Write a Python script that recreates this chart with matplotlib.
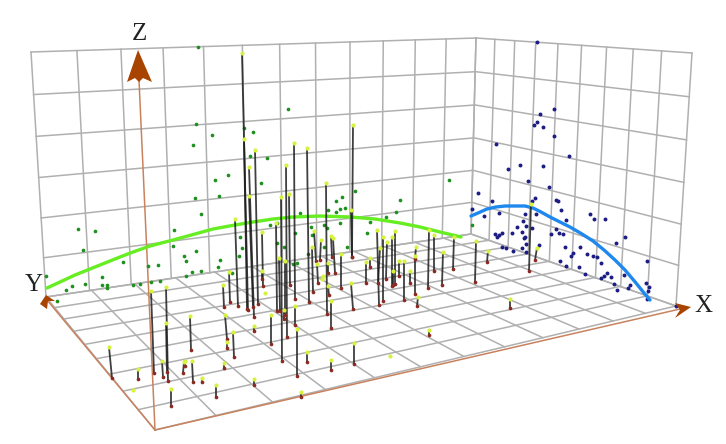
import numpy as np; import matplotlib.pyplot as plt

##### Values (pixel positions of the projected scene)
green_x = [198,288,244,253,196,212,193,250,267,228,215,261,219,195,201,78,95,174,355,342,336,345,340,336,328,300,270,277,295,311,312,324,340,
           449,400,396,386,370,472,367,83,123,102,102,107,107,85,72,66,46,57,133,140,151,160,158,148,173,184,186,196,192,186,201,220,218,232,240,242,239,277,284,293,297,308,324,347,327]
green_y = [47,109,128,132,124,135,145,156,158,175,180,183,196,198,214,229,231,230,191,197,201,208,209,212,210,213,225,223,233,227,235,225,223,
           180,200,212,217,222,225,233,250,262,277,285,285,288,284,286,290,276,301,285,284,282,281,265,266,246,256,261,251,272,276,271,260,267,273,237,248,256,243,247,264,263,254,247,247,228]

blue_x = [537,554,540,537,534,543,554,496,569,520,543,508,528,549,478,535,532,492,556,558,472,561,499,484,525,536,590,594,605,566,523,526,517,532,556,522,512,502,495,499,497,525,524,551,559,563,625,
          616,565,580,539,526,522,526,502,506,513,573,571,587,593,597,601,560,566,579,585,647,607,604,601,611,614,624,646,649,648,630,628,617,647,676]
blue_y = [42,109,114,122,125,127,136,144,156,165,166,169,181,187,193,198,201,201,200,201,209,210,213,216,214,214,214,219,219,220,221,226,227,228,229,232,233,233,234,235,237,237,238,234,233,234,237,
          243,247,247,245,244,248,252,247,248,251,253,256,254,256,257,263,261,266,267,274,261,273,276,278,277,284,275,283,287,291,285,288,290,299,306]

stem_top_x = [109,138,151,166,166,162,184,185,192,202,190,171,216,224,254,301,225,227,233,254,271,297,307,331,354,223,229,235,242,244,249,249,255,262,262,
              276,281,279,285,284,286,289,294,295,307,326,314,321,331,333,312,317,328,328,341,331,353,351,351,
              366,370,377,380,383,387,392,395,393,399,404,410,415,416,418,429,434,443,454,476,488,510,429,537,531]
stem_top_y = [347,369,291,287,323,361,362,361,361,378,316,389,385,363,379,392,315,342,332,326,315,329,352,360,343,285,272,219,53,139,167,196,150,232,271,
              223,197,258,261,310,165,194,143,306,148,183,231,240,236,238,247,264,263,286,254,301,125,210,283,
              262,258,230,248,237,242,237,231,271,261,261,271,256,247,297,230,235,252,237,241,251,299,330,248,204]
stem_base_x = [112,138,154,168,167,163,183,185,193,202,191,171,216,224,254,301,227,227,234,254,271,297,307,331,354,224,230,238,248,247,254,253,258,263,262,
               277,282,280,285,284,287,290,295,295,309,327,316,320,332,335,313,318,328,329,341,331,352,352,353,
               366,370,379,378,383,386,392,395,393,399,404,410,415,415,417,428,434,442,453,475,487,510,429,535,529]
stem_base_y = [378,379,373,381,372,377,373,366,382,382,350,406,397,368,385,397,339,348,357,331,344,376,362,370,364,307,302,306,310,309,317,307,304,286,279,
               311,361,311,315,319,337,285,299,325,302,314,261,260,257,273,292,283,273,295,288,328,257,257,309,
               283,267,305,283,301,279,286,284,285,276,300,283,294,259,306,288,271,285,269,282,262,308,335,260,271]

green_curve_x = [47,60,75,90,105,120,133,150,173,195,213,235,253,273,293,320,350,375,400,420,440,461]
green_curve_y = [288,282,275,269,263,257,252,246,240,234,229,225,222,219,217,216,217,219,223,227,232,237]
blue_curve_x = [471,478,487,496,505,515,525,533,541,550,560,570,582,593,604,615,625,636,644,650]
blue_curve_y = [216,213,209,207,206,206,206,208,212,217,222,227,234,241,250,260,270,283,293,300]

lone_top_x = [133,265,390,323,322]
lone_top_y = [390,293,356,276,279]

##### Projection of the three faces of the box
def homography(corners):
    src = [(0, 0), (1, 0), (1, 1), (0, 1)]; A = []; b = []
    for (u, v), (x, y) in zip(src, corners):
        A.append([u, v, 1, 0, 0, 0, -u*x, -v*x]); b.append(x)
        A.append([0, 0, 0, u, v, 1, -u*y, -v*y]); b.append(y)
    return np.append(np.linalg.solve(np.array(A, float), np.array(b, float)), 1).reshape(3, 3)

def draw_grid(ax, corners, nu, nv):
    H = homography(corners)
    t = np.linspace(0, 1, 2)
    for i in range(nu + 1):
        p = H @ np.array([np.full(2, i/nu), t, np.ones(2)])
        ax.plot(p[0]/p[2], p[1]/p[2], color="#B0B0B0", lw=1.1, zorder=1)
    for j in range(nv + 1):
        p = H @ np.array([t, np.full(2, j/nv), np.ones(2)])
        ax.plot(p[0]/p[2], p[1]/p[2], color="#B0B0B0", lw=1.1, zorder=1)

fig = plt.figure(figsize=(7.26, 4.44), dpi=100)
ax = fig.add_axes([0, 0, 1, 1]); ax.set_xlim(0, 726); ax.set_ylim(444, 0); ax.axis('off')

draw_grid(ax, [(31, 52), (476, 38), (471, 234), (46, 297)], 12, 6)
draw_grid(ax, [(476, 38), (692, 53), (676, 306), (471, 234)], 9, 6)
draw_grid(ax, [(46, 297), (471, 234), (676, 306), (155, 430)], 12, 9)

##### Axes
axis_col = "#C8825E"; head_col = "#A84300"
ax.plot([155, 139], [430, 80], color=axis_col, lw=1.1, zorder=2)
ax.plot([155, 47], [430, 300], color=axis_col, lw=1.1, zorder=2)
ax.plot([155, 680], [430, 309], color=axis_col, lw=1.1, zorder=2)
ax.fill([138, 152, 143, 139, 135, 127], [50, 82, 78, 82, 78, 82], color=head_col, lw=0, zorder=6)
ax.fill([46, 55, 48, 47, 40], [295, 301, 301, 309, 304], color=head_col, lw=0, zorder=6)
ax.fill([691, 675, 680, 675], [307, 303, 310, 318], color=head_col, lw=0, zorder=6)

##### Projected points, trends and sticks
ax.scatter(green_x, green_y, s=7, color="#1F8F1F", lw=0, zorder=3)
ax.scatter(blue_x, blue_y, s=8, color="#1C1C84", lw=0, zorder=3)
ax.plot(green_curve_x, green_curve_y, color="#66EE22", lw=2.4, zorder=4, solid_capstyle='round')
ax.plot(blue_curve_x, blue_curve_y, color="#1E88EE", lw=2.4, zorder=4, solid_capstyle='round')
for xt, yt, xb, yb in zip(stem_top_x, stem_top_y, stem_base_x, stem_base_y):
    ax.plot([xt, xb], [yt, yb], color="#1E1E1E", lw=1.3, alpha=0.85, zorder=5)
ax.scatter(stem_base_x, stem_base_y, s=7, color="#8A2A22", lw=0, zorder=6)
ax.scatter(stem_top_x + lone_top_x, stem_top_y + lone_top_y, s=9, color="#D6F23C", lw=0, zorder=6)

##### Labels
for s, x, y in [("Z", 139, 34), ("Y", 34, 285), ("X", 703, 306)]:
    ax.text(x, y, s, family="Liberation Serif", fontsize=18, color="#222222", ha='center', va='center')

fig.savefig("out.png", dpi=100)
